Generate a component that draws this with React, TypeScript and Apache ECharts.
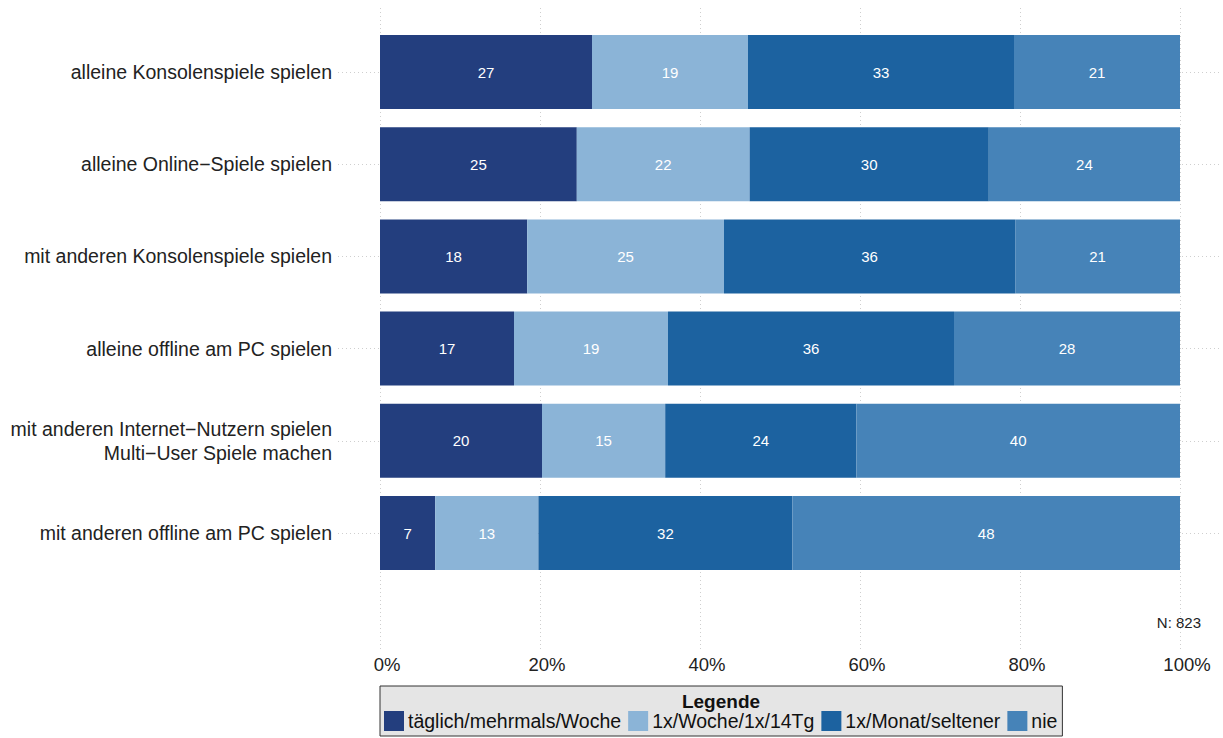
import React, { useEffect, useRef } from "react";
import * as echarts from "echarts";

const categories = [
  "alleine Konsolenspiele spielen",
  "alleine Online\u2212Spiele spielen",
  "mit anderen Konsolenspiele spielen",
  "alleine offline am PC spielen",
  "mit anderen Internet\u2212Nutzern spielen\nMulti\u2212User Spiele machen",
  "mit anderen offline am PC spielen",
];
const seriesNames = ["täglich/mehrmals/Woche", "1x/Woche/1x/14Tg", "1x/Monat/seltener", "nie"];
const colors = ["#233e7e", "#8bb4d7", "#1c62a0", "#4683b8"];
// bar widths (percent)
const daily = [26.5, 24.6, 18.4, 16.75, 20.25, 6.9];
const weekly = [19.5, 21.6, 24.6, 19.25, 15.4, 12.9];
const monthly = [33.25, 29.9, 36.4, 35.75, 23.9, 31.75];
const never = [20.75, 23.9, 20.6, 28.25, 40.45, 48.45];
// printed labels
const dailyLbl = [27, 25, 18, 17, 20, 7];
const weeklyLbl = [19, 22, 25, 19, 15, 13];
const monthlyLbl = [33, 30, 36, 36, 24, 32];
const neverLbl = [21, 24, 21, 28, 40, 48];
const xTicks = [0, 20, 40, 60, 80, 100];
const nText = "N: 823";

const FONT = "'Liberation Sans', Arial, Helvetica, sans-serif";

export default function App() {
  const ref = useRef<HTMLDivElement>(null);
  useEffect(() => {
    if (!ref.current) return;
    const chart = echarts.init(ref.current, null, { renderer: "svg" });
    const values = [daily, weekly, monthly, never];
    const labels = [dailyLbl, weeklyLbl, monthlyLbl, neverLbl];
    const dotted = { color: "#cfcfcf", type: [1, 3] as any, width: 1 };
    chart.setOption({
      animation: false,
      textStyle: { fontFamily: FONT },
      grid: [
        { left: 338, right: 3, top: 72, height: 461, containLabel: false },
        { left: 380, right: 43, top: 8, bottom: 88, containLabel: false },
      ],
      xAxis: [
        {
          gridIndex: 0, type: "value", min: -5.25, max: 105,
          show: false, splitLine: { show: false },
        },
        {
          gridIndex: 1, type: "value", min: 0, max: 100, interval: 20,
          axisLine: { show: false }, axisTick: { show: false },
          splitLine: { show: true, lineStyle: dotted },
          axisLabel: {
            formatter: (v: number) => (xTicks.includes(v) ? v + "%" : ""),
            color: "#222", fontSize: 18.5, margin: 5, fontFamily: FONT,
            padding: [0, 0, 0, 14],
          },
        },
      ],
      yAxis: [
        {
          gridIndex: 0, type: "category", data: categories, inverse: true,
          boundaryGap: false,
          axisLine: { show: false }, axisTick: { show: false },
          splitLine: { show: true, lineStyle: dotted },
          axisLabel: {
            color: "#222", fontSize: 19.5, margin: 6, lineHeight: 24, fontFamily: FONT,
            align: "right",
          },
        },
        { gridIndex: 1, type: "value", show: false, splitLine: { show: false } },
      ],
      legend: {
        data: seriesNames,
        left: 380, top: 686,
        orient: "horizontal",
        icon: "rect", itemWidth: 20, itemHeight: 20, itemGap: 7,
        backgroundColor: "#e5e5e5", borderColor: "#333", borderWidth: 1,
        padding: [25, 5, 5, 4],
        textStyle: { color: "#111", fontSize: 19.5, fontFamily: FONT, padding: [0, 0, 0, -1] },
        selectedMode: false,
      },
      graphic: [
        {
          type: "text", x: 721, y: 692, z: 100,
          style: { text: "Legende", fontSize: 19, fontWeight: "bold", fill: "#111", fontFamily: FONT, textAlign: "center" },
        },
        {
          type: "text", right: 22, top: 615,
          style: { text: nText, fontSize: 15, fill: "#222", fontFamily: FONT },
        },
      ],
      series: seriesNames.map((name, i) => ({
        name, type: "bar", stack: "all", xAxisIndex: 0, yAxisIndex: 0,
        barWidth: 74, clip: false,
        itemStyle: { color: colors[i] },
        label: {
          show: true, position: "inside", color: "#fff", fontSize: 15, fontFamily: FONT,
          formatter: (p: any) => String(labels[i][p.dataIndex]),
        },
        data: values[i],
      })),
    });
    return () => chart.dispose();
  }, []);
  return <div ref={ref} style={{ width: 1223, height: 738, position: "absolute", left: 0, top: 0 }} />;
}
